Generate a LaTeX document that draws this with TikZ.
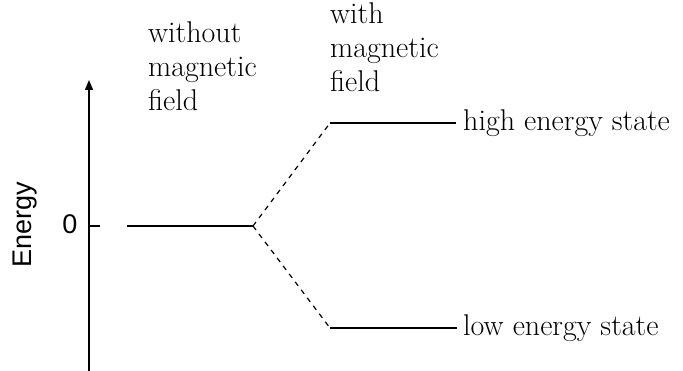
\documentclass[tikz,border=0pt]{standalone}
\usepackage{fontspec}
\newfontfamily\axisfont{Liberation Sans}
\usetikzlibrary{arrows.meta}

\begin{document}
\begin{tikzpicture}[
    x=1pt, y=-1pt,
    level/.style={line width=1.5pt},
    splitline/.style={line width=1.2pt, dash pattern=on 5pt off 5pt},
    lbl/.style={font=\fontsize{30}{34}\selectfont, align=left, inner sep=0pt},
    axislbl/.style={font=\axisfont\fontsize{27}{30}\selectfont, inner sep=0pt},
]
\useasboundingbox (0,0) rectangle (683,371);

% ===== ENERGY AXIS =====
\coordinate (axisbottom) at (89,371);
\coordinate (axistop) at (89,80);
\coordinate (zerotick) at (100,226);
\draw[line width=1.4pt, -{Triangle[length=10pt, width=8pt]}] (axisbottom) -- (axistop);
\draw[level] (axisbottom |- zerotick) -- (zerotick);
\node[axislbl, rotate=90] (energy) at (25,225) {Energy};
\node[axislbl] (zero) at (70,224) {0};

% ===== LEVELS =====
\coordinate (baseleft) at (127,226);
\coordinate (split) at (253,226);
\coordinate (highleft) at (330,123);
\coordinate (highright) at (456,123);
\coordinate (lowleft) at (330,328);
\coordinate (lowright) at (457,328);

\draw[level] (baseleft) -- (split);
\draw[level] (highleft) -- (highright);
\draw[level] (lowleft) -- (lowright);
\draw[splitline] (split) -- (highleft);
\draw[splitline] (split) -- (lowleft);

\node[lbl, anchor=base west] (highlabel) at (463,131) {high energy state};
\node[lbl, anchor=base west] (lowlabel) at (463,336) {low energy state};

% ===== HEADINGS =====
\node[lbl, anchor=west] (without) at (148,66) {without\\magnetic\\field};
\node[lbl, anchor=west] (with) at (330,47) {with\\magnetic\\field};

\end{tikzpicture}
\end{document}
